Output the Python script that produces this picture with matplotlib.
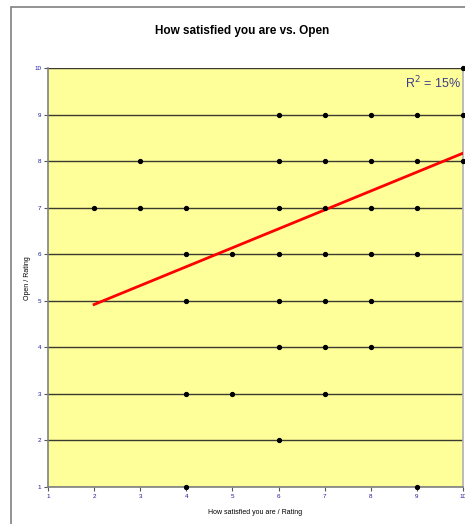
import matplotlib.pyplot as plt
from matplotlib.patches import Rectangle

plt.rcParams['font.family'] = ['Liberation Sans', 'DejaVu Sans']

# ratings: (How satisfied, Open)
satisfied = [10,
             6, 7, 8, 9, 10,
             3, 6, 7, 8, 9, 10,
             2, 3, 4, 6, 7, 8, 9,
             4, 5, 6, 7, 8, 9,
             4, 6, 7, 8,
             6, 7, 8,
             4, 5, 7,
             6,
             4, 9]
open_rating = [10,
               9, 9, 9, 9, 9,
               8, 8, 8, 8, 8, 8,
               7, 7, 7, 7, 7, 7, 7,
               6, 6, 6, 6, 6, 6,
               5, 5, 5, 5,
               4, 4, 4,
               3, 3, 3,
               2,
               1, 1]

trend_x = [2, 10]
trend_y = [4.92, 8.17]
r2_label = 'R$^2$ = 15%'

fig = plt.figure(figsize=(4.65, 5.24), dpi=100)
fig.patch.set_facecolor('white')

# outer chart frame (runs off the right/bottom of the crop)
fig.patches.append(Rectangle((11 / 465, -0.1), 1.2, 1 - 7 / 524 + 0.1,
                             transform=fig.transFigure, fill=False,
                             edgecolor='#808080', linewidth=1.2))

ax = fig.add_axes([48 / 465, 1 - 487 / 524, 415 / 465, (487 - 68) / 524])
ax.set_facecolor('#FFFF99')
ax.set_xlim(1, 10)
ax.set_ylim(1, 10)
ax.set_xticks(range(1, 11))
ax.set_yticks(range(1, 11))
ax.yaxis.grid(True, color='#3a3a30', linewidth=1.0)
ax.set_axisbelow(True)

for side in ['left', 'bottom']:
    ax.spines[side].set_color('#808080')
    ax.spines[side].set_linewidth(1.2)
ax.spines['top'].set_visible(False)
ax.spines['right'].set_color('#B0B0B0')
ax.spines['right'].set_linewidth(1.2)

ax.tick_params(axis='both', labelsize=4.5, labelcolor='#1a1aa0', color='#555555',
               length=3, width=0.8, direction='out', pad=2)

ax.plot(trend_x, trend_y, color='#FF0000', linewidth=2, zorder=3)
ax.plot(satisfied, open_rating, 'o', color='black', markersize=2.8, clip_on=False, zorder=4)

ax.text(9.96, 9.68, r2_label, fontsize=9, color='#3c3c8c', ha='right', va='center')

fig.text(242 / 465, 1 - 31 / 524, 'How satisfied you are vs. Open',
         fontsize=8.5, fontweight='bold', ha='center', va='center')
fig.text(255 / 465, 1 - 512 / 524, 'How satisfied you are / Rating',
         fontsize=5, ha='center', va='center')
fig.text(27 / 465, 1 - 278 / 524, 'Open / Rating',
         fontsize=5, ha='center', va='center', rotation=90)

fig.savefig('out.png', dpi=100)
